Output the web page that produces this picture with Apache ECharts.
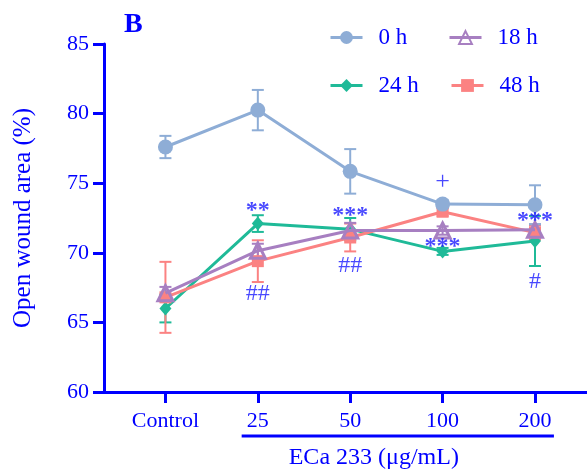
<!DOCTYPE html>
<html>
<head>
<meta charset="utf-8">
<script src="https://cdn.jsdelivr.net/npm/echarts@6/dist/echarts.min.js"></script>
<style>
  html, body { margin: 0; padding: 0; background: #fff; }
  #chart { width: 587px; height: 472px; }
</style>
</head>
<body>
<div id="chart"></div>
<script>
// Groups on the x axis
const categories = ['Control', '25', '50', '100', '200'];

// Open wound area (%) per time point, mean and error
const mean0h  = [77.6, 80.25, 75.85, 73.5, 73.45];
const err0h   = [0.8, 1.45, 1.6, 0.3, 1.4];
const mean24h = [66.0, 72.1, 71.7, 70.1, 70.85];
const err24h  = [1.0, 0.6, 0.8, 0.25, 1.8];
const mean18h = [67.1, 70.15, 71.6, 71.6, 71.65];
const err18h  = [0.45, 0.5, 0.55, 0.3, 0.4];
const mean48h = [66.8, 69.4, 71.1, 72.95, 71.45];
const err48h  = [2.55, 1.5, 1.0, 0.3, 0.5];

// Significance marks: group index, value level, text
const markIndex = [1, 2, 1, 2, 3, 3, 4, 4];
const markLevel = [73.04, 72.64, 67.08, 69.07, 75.05, 70.40, 72.32, 67.94];
const markText  = ['**', '***', '##', '##', '+', '***', '***', '#'];

const yTicks = [60, 65, 70, 75, 80, 85];

const AXIS_BLUE = '#0000ff';
const MARK_BLUE = '#1a1aff';
const SERIF = '"Liberation Serif", "DejaVu Serif", serif';

const C0 = '#8eadd6';
const C24 = '#1fba98';
const C18 = '#a77fc1';
const C48 = '#fb8282';

function errData(m, e) {
  return m.map((v, i) => [i, v - e[i], v + e[i]]);
}
function lineData(m) {
  return m.map((v, i) => [i, v]);
}

function errorSeries(m, e, color) {
  return {
    type: 'custom',
    data: errData(m, e),
    z: 2,
    silent: true,
    renderItem: function (params, api) {
      const x = api.value(0);
      const lo = api.coord([x, api.value(1)]);
      const hi = api.coord([x, api.value(2)]);
      const hw = 6;
      const style = { stroke: color, lineWidth: 2, fill: null };
      return {
        type: 'group',
        children: [
          { type: 'line', shape: { x1: lo[0], y1: lo[1], x2: hi[0], y2: hi[1] }, style: style },
          { type: 'line', shape: { x1: lo[0] - hw, y1: lo[1], x2: lo[0] + hw, y2: lo[1] }, style: style },
          { type: 'line', shape: { x1: hi[0] - hw, y1: hi[1], x2: hi[0] + hw, y2: hi[1] }, style: style }
        ]
      };
    }
  };
}

function lineSeries(name, m, color, symbol, size, itemStyle, z) {
  return {
    type: 'line',
    name: name,
    data: lineData(m),
    symbol: symbol,
    symbolSize: size,
    showAllSymbol: true,
    z: z,
    lineStyle: { color: color, width: 3 },
    itemStyle: itemStyle || { color: color },
    emphasis: { disabled: true },
    animation: false
  };
}

function legendAt(name, left, top) {
  return {
    data: [name],
    left: left,
    top: top,
    itemWidth: 32,
    itemHeight: 16,
    selectedMode: false,
    lineStyle: { width: 3 },
    textStyle: { fontFamily: SERIF, fontSize: 23, color: AXIS_BLUE, padding: [0, 0, 0, 11] }
  };
}

const chart = echarts.init(document.getElementById('chart'), null, { renderer: 'canvas' });

const option = {
  animation: false,
  backgroundColor: '#fff',
  grid: { left: 104, right: 0, top: 44, bottom: 80, containLabel: false },
  title: {
    text: 'B',
    left: 119,
    top: 6,
    textStyle: { fontFamily: SERIF, fontSize: 28, fontWeight: 'bold', color: AXIS_BLUE }
  },
  legend: [
    legendAt('0 h', 324, 21),
    legendAt('18 h', 443, 21),
    legendAt('24 h', 324, 69),
    legendAt('48 h', 445, 69)
  ],
  xAxis: {
    type: 'value',
    min: -0.665,
    max: 4.563,
    splitLine: { show: false },
    axisLine: { show: true, onZero: false, lineStyle: { color: AXIS_BLUE, width: 3 } },
    axisTick: {
      show: true,
      customValues: [0, 1, 2, 3, 4],
      length: 11,
      lineStyle: { color: AXIS_BLUE, width: 3 }
    },
    axisLabel: {
      customValues: [0, 1, 2, 3, 4],
      formatter: function (v) { return categories[Math.round(v)]; },
      margin: 18,
      fontFamily: SERIF,
      fontSize: 22,
      color: AXIS_BLUE
    }
  },
  yAxis: {
    type: 'value',
    min: yTicks[0],
    max: yTicks[yTicks.length - 1],
    interval: 5,
    splitLine: { show: false },
    axisLine: { show: true, onZero: false, lineStyle: { color: AXIS_BLUE, width: 3 } },
    axisTick: { show: true, length: 11, lineStyle: { color: AXIS_BLUE, width: 3 } },
    axisLabel: { margin: 15, fontFamily: SERIF, fontSize: 22, color: AXIS_BLUE },
    name: 'Open wound area (%)',
    nameLocation: 'middle',
    nameGap: 68,
    nameTextStyle: { fontFamily: SERIF, fontSize: 25, color: AXIS_BLUE }
  },
  series: [
    errorSeries(mean24h, err24h, C24),
    errorSeries(mean48h, err48h, C48),
    errorSeries(mean18h, err18h, C18),
    errorSeries(mean0h, err0h, C0),
    lineSeries('24 h', mean24h, C24, 'diamond', [12, 14], null, 3),
    lineSeries('48 h', mean48h, C48, 'rect', 12, null, 4),
    lineSeries('18 h', mean18h, C18, 'triangle', 15,
      { color: 'rgba(255,255,255,0)', borderColor: C18, borderWidth: 3 }, 5),
    lineSeries('0 h', mean0h, C0, 'circle', 15, null, 6),
    {
      type: 'scatter',
      symbol: 'circle',
      symbolSize: 1,
      itemStyle: { color: 'rgba(0,0,0,0)' },
      silent: true,
      z: 10,
      data: markIndex.map((x, i) => {
        const isStar = markText[i].indexOf('*') >= 0;
        const isPlus = markText[i] === '+';
        return {
          value: [x, markLevel[i]],
          label: {
            show: true,
            position: 'inside',
            formatter: markText[i],
            fontFamily: SERIF,
            fontSize: isStar ? 24 : (isPlus ? 26 : 24),
            fontWeight: isStar ? 'bold' : 'normal',
            color: MARK_BLUE
          }
        };
      })
    }
  ]
};

chart.setOption(option);

// Bracket under the ECa 233 concentrations, with its caption
const p1 = chart.convertToPixel({ gridIndex: 0 }, [0.825, 60]);
const p2 = chart.convertToPixel({ gridIndex: 0 }, [4.205, 60]);
const lineY = 436;
chart.setOption({
  graphic: [
    {
      type: 'line',
      shape: { x1: p1[0], y1: lineY, x2: p2[0], y2: lineY },
      style: { stroke: AXIS_BLUE, lineWidth: 3 }
    },
    {
      type: 'text',
      x: (p1[0] + p2[0]) / 2 - 24,
      y: 458,
      style: {
        text: 'ECa 233 (\u03bcg/mL)',
        fontFamily: SERIF,
        fontSize: 24,
        fill: AXIS_BLUE,
        align: 'center',
        verticalAlign: 'middle'
      }
    }
  ]
});
</script>
</body>
</html>
